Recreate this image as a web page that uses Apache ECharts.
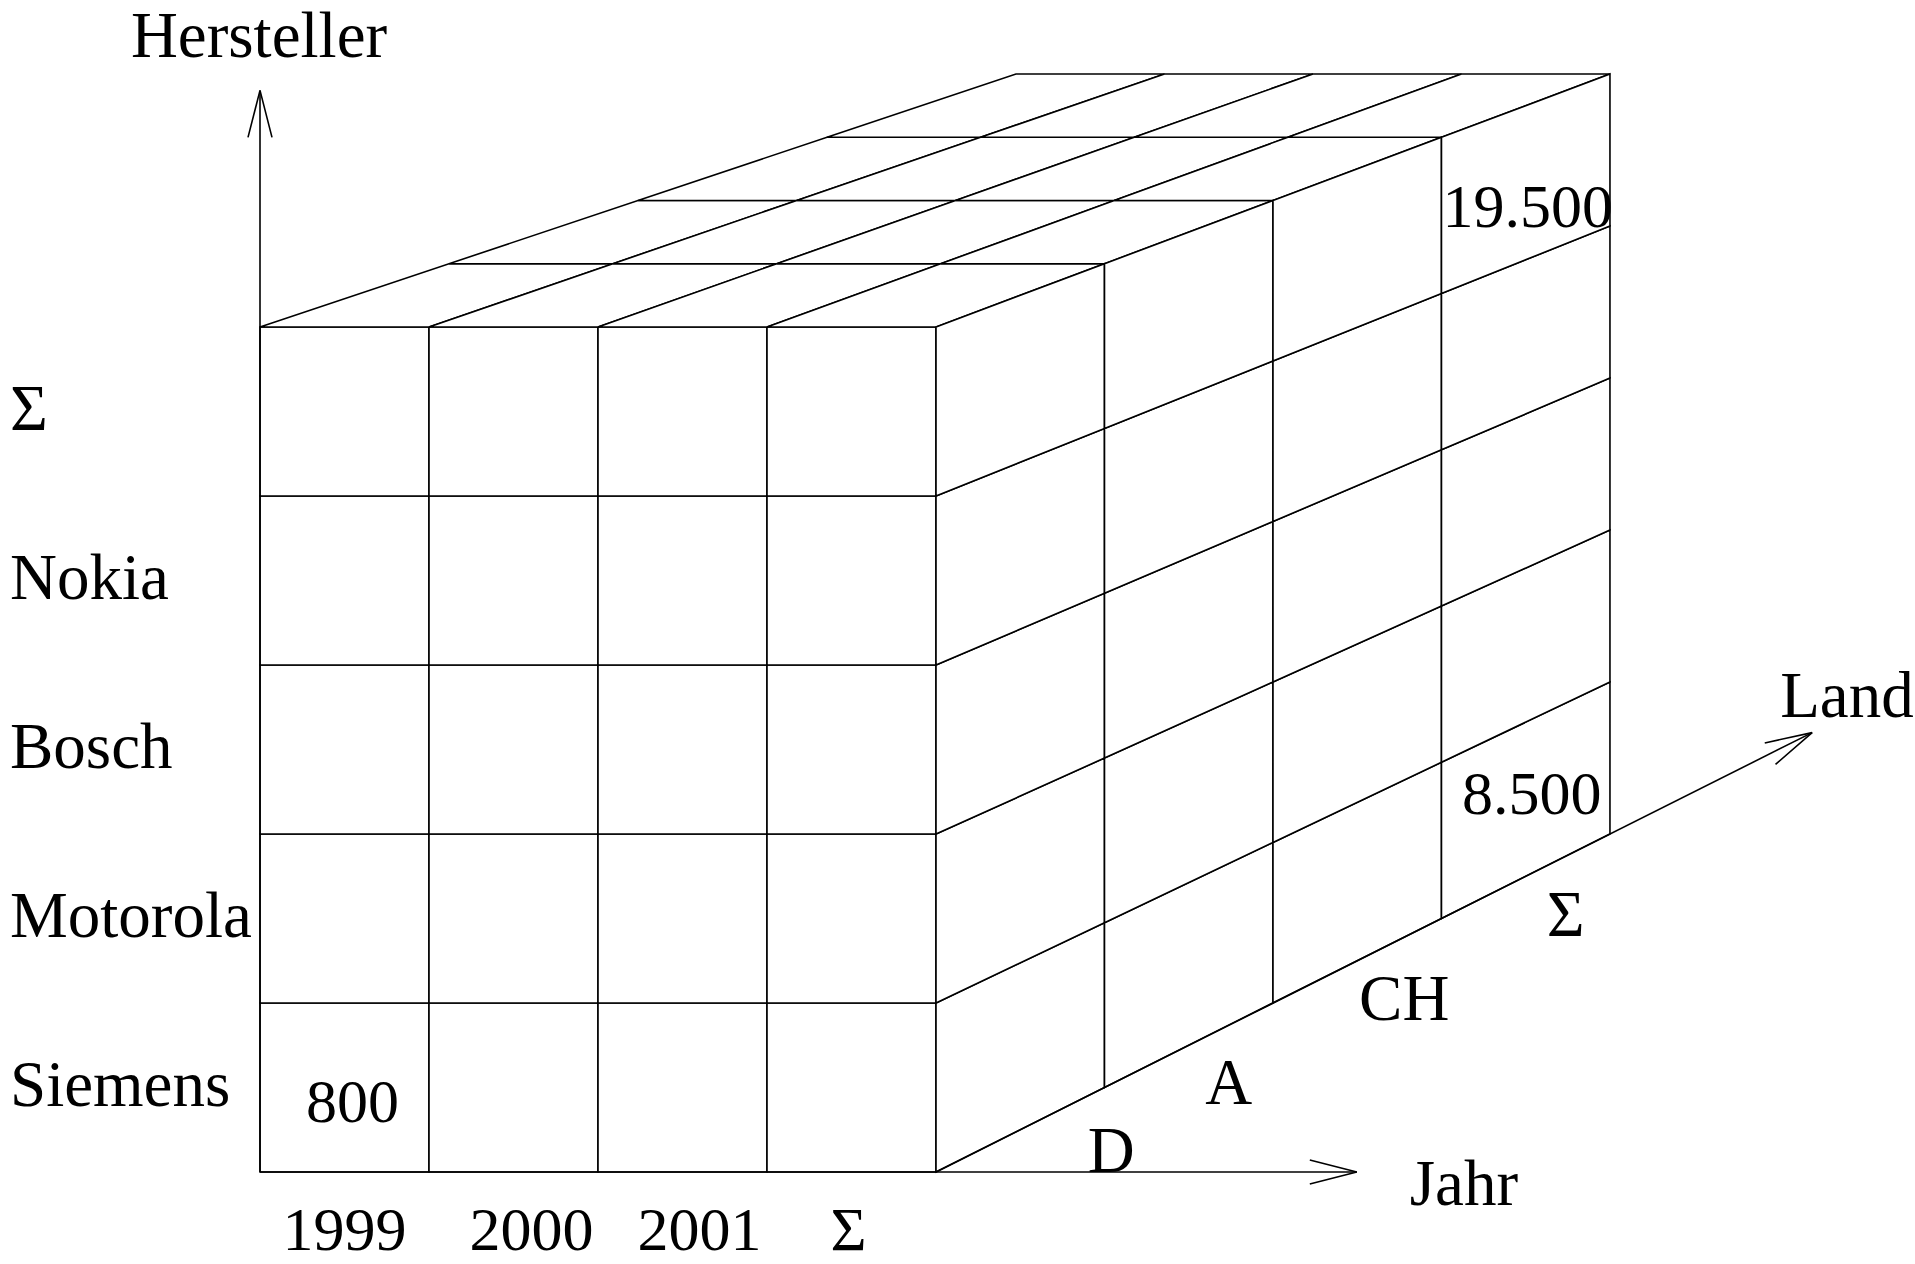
<!DOCTYPE html>
<html>
<head>
<meta charset="utf-8">
<script src="https://cdn.jsdelivr.net/npm/echarts@6/dist/echarts.min.js"></script>
<style>
html,body{margin:0;padding:0;background:#fff;}
#chart{width:1915px;height:1264px;}
</style>
</head>
<body>
<div id="chart"></div>
<script>
// ---------------- data ----------------
const years  = ['1999', '2000', '2001', 'Σ'];                 // Jahr (front, left to right)
const makers = ['Siemens', 'Motorola', 'Bosch', 'Nokia', 'Σ'];  // Hersteller (bottom to top)
const lands  = ['D', 'A', 'CH', 'Σ'];                          // Land (front to back)
const axisTitles = ['Jahr', 'Hersteller', 'Land'];
// known cell values
const cellYear  = ['1999', 'Σ', 'Σ'];
const cellMaker = ['Siemens', 'Σ', 'Siemens'];
const cellLand  = ['D', 'Σ', 'Σ'];
const cellValue = [800, 19500, 8500];

// ---------------- layout ----------------
const W = 1915, H = 1264;
const UNIT = 169;               // px per front cell
const ORIGIN = [260, 1172];     // front-bottom-left corner of cube (px)
const DEPTH_DX = 1.1183, DEPTH_DY = 0.5, SHRINK_X = 0.03033, SHRINK_Y = 0.02515;
const FONT = "'Liberation Serif','Times New Roman',serif";
const WORD_SIZE = 65, NUM_SIZE = 62;
const LINE_W = 1.6;
// axis reach in cube units and title placement (px offsets from arrow tip)
const axisReach = [6.49, 6.4, 5.2];
const axisTitleOffset = [[53, 11, 'left'], [-1, -55, 'center'], [-32, -38, 'left']];
const yearLabelNudge = [0, 18, 17, -3];
const YEAR_LABEL_DY = 57;
const landLabelNudge = [[91, 20], [40, 37], [47, 37], [40, 38]];
const valueNudge = [[8, 13], [2, 23], [6, -6]];

// oblique perspective projection of cube coords (i: Jahr, j: Hersteller, k: Land)
function proj(i, j, k) {
  return [i + k * (DEPTH_DX - SHRINK_X * i), j + k * (DEPTH_DY - SHRINK_Y * j)];
}
function fmt(v) {
  return String(v).replace(/\B(?=(\d{3})+(?!\d))/g, '.');
}
function txt(x, y, text, size, align) {
  return {
    type: 'text', x: x, y: y,
    style: { text: text, fontSize: size, fontFamily: FONT, fill: '#000',
             align: align || 'center', verticalAlign: 'middle' }
  };
}
function facePoly(api, corners) {
  return {
    type: 'polygon',
    shape: { points: corners.map(c => api.coord(proj(c[0], c[1], c[2]))) },
    style: { fill: '#fff', stroke: '#000', lineWidth: LINE_W }
  };
}

const nI = years.length, nJ = makers.length, nK = lands.length;

const frontData = [], topData = [], rightData = [];
years.forEach((y, i) => makers.forEach((m, j) => frontData.push([i, j])));
years.forEach((y, i) => lands.forEach((l, k) => topData.push([i, k])));
lands.forEach((l, k) => makers.forEach((m, j) => rightData.push([k, j])));

const axisDefs = [
  { from: [0, 0, 0], to: [axisReach[0], 0, 0] },
  { from: [0, 0, 0], to: [0, axisReach[1], 0] },
  { from: [nI, 0, 0], to: [nI, 0, axisReach[2]] }
];

const valueData = cellValue.map((v, n) => [
  years.indexOf(cellYear[n]), makers.indexOf(cellMaker[n]), lands.indexOf(cellLand[n]), v, n
]);

const chart = echarts.init(document.getElementById('chart'), null, { renderer: 'svg' });

chart.setOption({
  animation: false,
  backgroundColor: '#fff',
  grid: { left: 0, right: 0, top: 0, bottom: 0, containLabel: false },
  xAxis: { type: 'value', min: -ORIGIN[0] / UNIT, max: (W - ORIGIN[0]) / UNIT, show: false },
  yAxis: { type: 'value', min: -(H - ORIGIN[1]) / UNIT, max: ORIGIN[1] / UNIT, show: false },
  series: [
    { // front face cells: Jahr x Hersteller
      type: 'custom', coordinateSystem: 'cartesian2d', data: frontData, silent: true,
      renderItem: (p, api) => {
        const i = api.value(0), j = api.value(1);
        return facePoly(api, [[i, j, 0], [i + 1, j, 0], [i + 1, j + 1, 0], [i, j + 1, 0]]);
      }
    },
    { // top face cells: Jahr x Land
      type: 'custom', coordinateSystem: 'cartesian2d', data: topData, silent: true,
      renderItem: (p, api) => {
        const i = api.value(0), k = api.value(1);
        return facePoly(api, [[i, nJ, k], [i + 1, nJ, k], [i + 1, nJ, k + 1], [i, nJ, k + 1]]);
      }
    },
    { // right face cells: Land x Hersteller
      type: 'custom', coordinateSystem: 'cartesian2d', data: rightData, silent: true,
      renderItem: (p, api) => {
        const k = api.value(0), j = api.value(1);
        return facePoly(api, [[nI, j, k], [nI, j, k + 1], [nI, j + 1, k + 1], [nI, j + 1, k]]);
      }
    },
    { // axes with open arrow heads and titles
      type: 'custom', coordinateSystem: 'cartesian2d', silent: true,
      data: axisTitles.map((t, n) => [n]),
      renderItem: (p, api) => {
        const n = api.value(0), d = axisDefs[n];
        const a = api.coord(proj(...d.from)), b = api.coord(proj(...d.to));
        const dx = b[0] - a[0], dy = b[1] - a[1], len = Math.hypot(dx, dy);
        const ux = dx / len, uy = dy / len, nx = -uy, ny = ux;
        const L = 47, Wd = 12;
        const off = axisTitleOffset[n];
        return {
          type: 'group',
          children: [
            { type: 'line', shape: { x1: a[0], y1: a[1], x2: b[0], y2: b[1] },
              style: { stroke: '#000', lineWidth: LINE_W } },
            { type: 'polyline', shape: { points: [
                [b[0] - L * ux + Wd * nx, b[1] - L * uy + Wd * ny],
                [b[0], b[1]],
                [b[0] - L * ux - Wd * nx, b[1] - L * uy - Wd * ny]] },
              style: { stroke: '#000', lineWidth: LINE_W, fill: null } },
            txt(b[0] + off[0], b[1] + off[1], axisTitles[n], WORD_SIZE, off[2])
          ]
        };
      }
    },
    { // Hersteller labels
      type: 'custom', coordinateSystem: 'cartesian2d', silent: true,
      data: makers.map((m, j) => [j]),
      renderItem: (p, api) => {
        const j = api.value(0);
        const c = api.coord(proj(0, j + 0.5, 0));
        return txt(c[0] - 250, c[1] - 3.5, makers[j], WORD_SIZE, 'left');
      }
    },
    { // Jahr labels
      type: 'custom', coordinateSystem: 'cartesian2d', silent: true,
      data: years.map((y, i) => [i]),
      renderItem: (p, api) => {
        const i = api.value(0);
        const c = api.coord(proj(i + 0.5, 0, 0));
        return txt(c[0] + yearLabelNudge[i], c[1] + YEAR_LABEL_DY, years[i], NUM_SIZE, 'center');
      }
    },
    { // Land labels
      type: 'custom', coordinateSystem: 'cartesian2d', silent: true,
      data: lands.map((l, k) => [k]),
      renderItem: (p, api) => {
        const k = api.value(0);
        const c = api.coord(proj(nI, 0, k + 0.5));
        const nd = landLabelNudge[k];
        return txt(c[0] + nd[0], c[1] + nd[1], lands[k], WORD_SIZE, 'center');
      }
    },
    { // cell values on the visible face of their cell
      type: 'custom', coordinateSystem: 'cartesian2d', silent: true,
      data: valueData,
      renderItem: (p, api) => {
        const i = api.value(0), j = api.value(1), k = api.value(2), v = api.value(3), n = api.value(4);
        let c;
        if (k === 0) c = api.coord(proj(i + 0.5, j + 0.5, 0));
        else if (i === nI - 1) c = api.coord(proj(nI, j + 0.5, k + 0.5));
        else c = api.coord(proj(i + 0.5, nJ, k + 0.5));
        const nd = valueNudge[n];
        return txt(c[0] + nd[0], c[1] + nd[1], fmt(v), NUM_SIZE, 'center');
      }
    }
  ]
});
</script>
</body>
</html>
